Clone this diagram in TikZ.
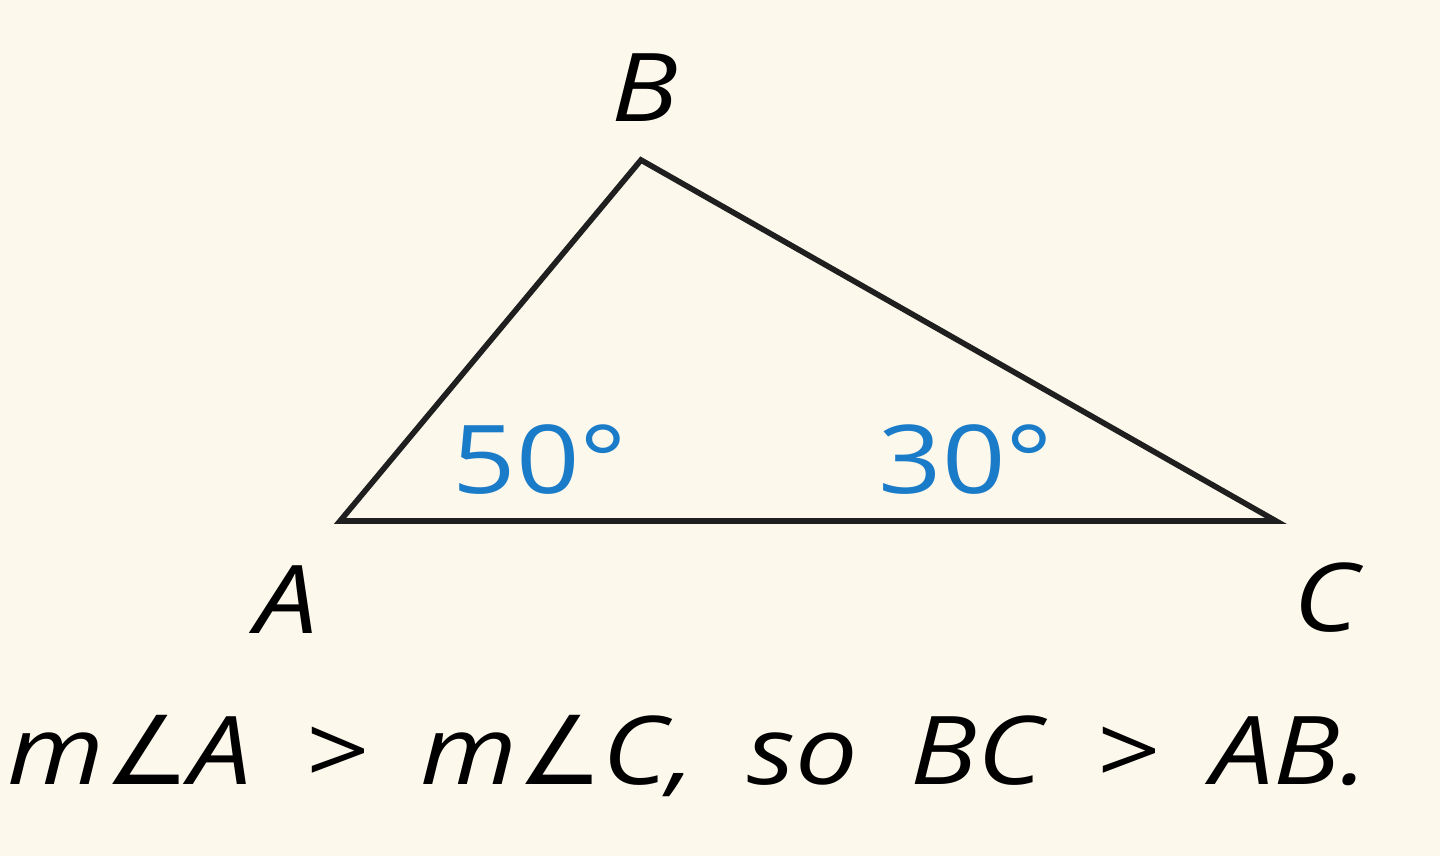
\documentclass[tikz,border=0pt]{standalone}
\usepackage{fontspec}
\setmainfont[FakeStretch=1.17]{Open Sans}
\newfontfamily\symfont{DejaVu Sans}
\usepackage{tikz}
\definecolor{paper}{HTML}{FDF8EC}
\definecolor{anglblue}{HTML}{1A7CC9}
\newcommand{\angsym}{{\symfont\itshape ∠}}
\tikzset{
  % Specifications for style of nodes:
      vertex/.style = {font=\fontsize{27}{32}\selectfont\itshape, inner sep=0pt},
  anglelabel/.style = {font=\fontsize{27}{32}\selectfont, text=anglblue, inner sep=0pt},
     caption/.style = {font=\fontsize{27}{32}\selectfont\itshape, inner sep=0pt},
        side/.style = {line width=1.6pt, line join=miter, draw=black!88},
}

\begin{document}
\begin{tikzpicture}[x=0.01cm, y=-0.01cm]
    \useasboundingbox (0,0) rectangle (1440,856);
    \fill[paper] (0,0) rectangle (1440,856);
    % Vertices of the triangle
    \coordinate (ptA) at (340,521);
    \coordinate (ptB) at (641,160);
    \coordinate (ptC) at (1276,521);
    % Sides
    \draw[side] (ptA) -- (ptB) -- (ptC) -- cycle;
    % Vertex labels
    \node (labA) [vertex] at (287,600) {A};
    \node (labB) [vertex] at (645,88)  {B};
    \node (labC) [vertex] at (1326,598) {C};
    % Angle measures
    \node (angA) [anglelabel] at (540,460) {50°};
    \node (angC) [anglelabel] at (966,460) {30°};
    % Conclusion
    \node (concl) [caption] at (688,756)
        {\makebox[13.6cm][s]{m\angsym A > m\angsym C, so BC > AB.}};
\end{tikzpicture}
\end{document}
